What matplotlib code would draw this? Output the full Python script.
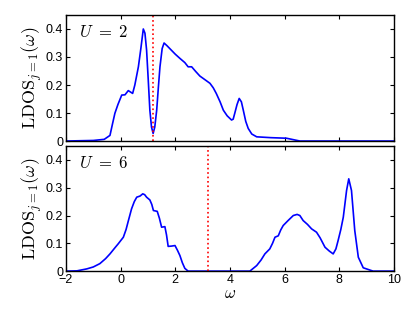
import numpy as np
import matplotlib.pyplot as plt

plt.rcParams['font.family'] = ['Liberation Sans', 'DejaVu Sans']
plt.rcParams['mathtext.fontset'] = 'cm'

# LDOS for U = 2
w_u2 = [-2.0, -1.0, -0.6, -0.39, -0.3, -0.21, -0.1, 0.04, 0.16, 0.28, 0.36, 0.44,
        0.52, 0.65, 0.74, 0.83, 0.89, 0.95, 1.01, 1.07, 1.13, 1.19, 1.25, 1.32,
        1.38, 1.44, 1.52, 1.59, 1.7, 1.8, 2.0, 2.17, 2.35, 2.47, 2.6, 2.75, 2.9,
        3.1, 3.27, 3.39, 3.5, 3.64, 3.76, 3.9, 4.06, 4.12, 4.18, 4.26, 4.34, 4.42,
        4.49, 4.58, 4.67, 4.8, 4.98, 5.5, 6.07, 6.56, 8.0, 10.0]
ldos_u2 = [0.0, 0.002, 0.006, 0.02, 0.06, 0.099, 0.13, 0.164, 0.165, 0.18, 0.175, 0.17,
           0.2, 0.265, 0.33, 0.40, 0.385, 0.325, 0.22, 0.11, 0.05, 0.027, 0.05, 0.11,
           0.19, 0.265, 0.33, 0.35, 0.34, 0.33, 0.31, 0.295, 0.28, 0.265, 0.265, 0.248, 0.232,
           0.218, 0.206, 0.19, 0.17, 0.14, 0.11, 0.09, 0.075, 0.078, 0.1, 0.13, 0.152, 0.14,
           0.11, 0.07, 0.045, 0.025, 0.015, 0.012, 0.01, 0.0, 0.0, 0.0]

# LDOS for U = 6
w_u6 = [-2.0, -1.6, -1.24, -1.0, -0.76, -0.55, -0.39, -0.2, -0.09, 0.1, 0.2, 0.28,
        0.4, 0.5, 0.59, 0.71, 0.81, 0.88, 0.95, 1.07, 1.14, 1.2, 1.34, 1.42, 1.5,
        1.62, 1.68, 1.74, 1.86, 1.99, 2.08, 2.17, 2.26, 2.35, 2.47, 3.0, 4.0, 4.73,
        4.98, 5.14, 5.28, 5.46, 5.56, 5.65, 5.77, 5.86, 5.95, 6.13, 6.32, 6.46, 6.56,
        6.68, 6.84, 6.99, 7.17, 7.3, 7.48, 7.64, 7.78, 7.88, 7.96, 8.06, 8.15, 8.27,
        8.35, 8.45, 8.57, 8.7, 8.88, 9.24, 10.0]
ldos_u6 = [0.0, 0.001, 0.008, 0.015, 0.027, 0.045, 0.062, 0.085, 0.098, 0.122, 0.15, 0.18,
           0.224, 0.25, 0.266, 0.27, 0.278, 0.275, 0.266, 0.256, 0.24, 0.218, 0.215, 0.19, 0.158,
           0.16, 0.13, 0.089, 0.09, 0.092, 0.075, 0.056, 0.03, 0.01, 0.0, 0.0, 0.0, 0.0,
           0.02, 0.04, 0.062, 0.08, 0.1, 0.122, 0.127, 0.148, 0.164, 0.182, 0.2, 0.204, 0.2,
           0.182, 0.168, 0.152, 0.14, 0.12, 0.086, 0.072, 0.062, 0.08, 0.11, 0.15, 0.194, 0.29,
           0.332, 0.29, 0.146, 0.05, 0.012, 0.0, 0.0]

panels = [(w_u2, ldos_u2, 1.18, r'$U\ =\ 2$'), (w_u6, ldos_u6, 3.2, r'$U\ =\ 6$')]

fig = plt.figure(figsize=(4.15, 3.12), dpi=100)
ax_top = fig.add_axes([0.159, 0.548, 0.790, 0.404])
ax_bot = fig.add_axes([0.159, 0.131, 0.790, 0.401])

for ax, (w, ldos, mu, label) in zip([ax_top, ax_bot], panels):
    ax.plot(w, ldos, color='blue', lw=1.2)
    ax.axvline(mu, color='red', ls=':', lw=1.2)
    ax.set_xlim(-2, 10)
    ax.set_ylim(0, 0.45)
    ax.set_yticks([0, 0.1, 0.2, 0.3, 0.4])
    ax.set_yticklabels(['0', '0.1', '0.2', '0.3', '0.4'])
    ax.set_xticks(range(-2, 11, 2))
    ax.tick_params(direction='in', top=True, right=True, labelsize=9, length=3, pad=2)
    ax.set_ylabel(r'$\mathrm{LDOS}_{j=1}(\omega)$', fontsize=13, labelpad=1)
    ax.text(0.04, 0.93, label, transform=ax.transAxes, fontsize=12, va='top')
    for s in ax.spines.values():
        s.set_linewidth(1.0)

ax_top.set_xticklabels([])
ax_bot.set_xlabel(r'$\omega$', fontsize=12, labelpad=0)

fig.savefig('out.png', dpi=100)
